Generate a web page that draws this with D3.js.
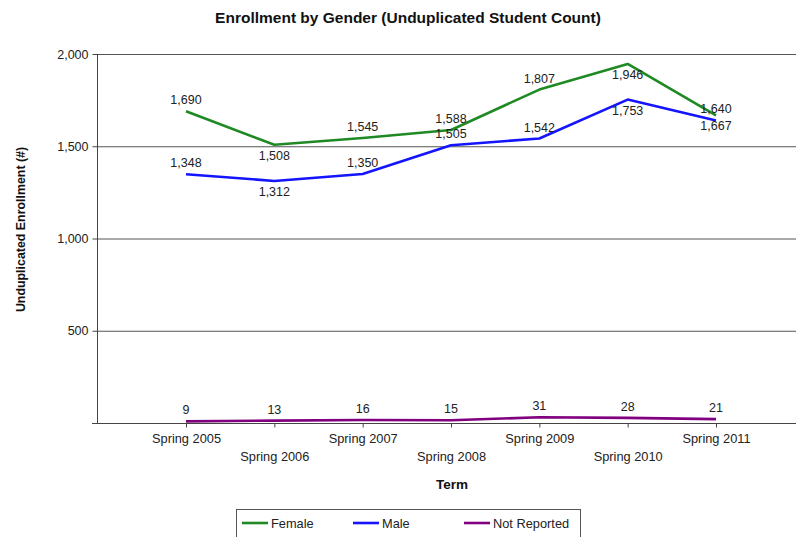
<!DOCTYPE html>
<html><head><meta charset="utf-8">
<script src="https://cdn.jsdelivr.net/npm/d3@7"></script>
<style>body{margin:0;background:#fff;}svg{display:block;font-family:"Liberation Sans",Arial,sans-serif;}</style>
</head><body><svg id="c" width="796" height="537"></svg>
<script>
const terms = ["Spring 2005","Spring 2006","Spring 2007","Spring 2008","Spring 2009","Spring 2010","Spring 2011"];
const female = [1690,1508,1545,1588,1807,1946,1667];
const male = [1348,1312,1350,1505,1542,1753,1640];
const notReported = [9,13,16,15,31,28,21];
const femaleLabelPos = ["above","below","above","above","above","below","below"];
const maleLabelPos = ["above","below","above","above","above","below","above"];
const notReportedLabelPos = ["above","above","above","above","above","above","above"];
const yTicks = [500,1000,1500,2000];

const series = [
  {name:"Female", values:female, pos:femaleLabelPos, color:"#1f8a24"},
  {name:"Male", values:male, pos:maleLabelPos, color:"#1414ff"},
  {name:"Not Reported", values:notReported, pos:notReportedLabelPos, color:"#800080"}
];

const svg = d3.select("#c");
const pL = 97, pR = 796, pT = 54, pB = 423;
const x = d3.scalePoint().domain(terms).range([186, 716]);
const y = d3.scaleLinear().domain([0, 2000]).range([pB, pT]);
const fmt = d3.format(",");
const FF = "'Liberation Sans',Arial,sans-serif";

// gridlines
svg.append("g").selectAll("line").data(yTicks).join("line")
  .attr("x1", pL).attr("x2", pR)
  .attr("y1", d => y(d) + 0.5).attr("y2", d => y(d) + 0.5)
  .attr("stroke", "#555").attr("stroke-width", 1.2);

// y axis
const yAxis = svg.append("g").attr("transform", `translate(${pL + 0.5},0)`)
  .call(d3.axisLeft(y).tickValues(yTicks).tickFormat(fmt).tickSize(5).tickSizeOuter(0));
yAxis.select(".domain").attr("stroke", "#444").attr("d", `M0,${pT}V${pB}`);
yAxis.selectAll(".tick line").attr("stroke", "#444");
yAxis.selectAll(".tick text").attr("font-size", 12.5).attr("fill", "#222").attr("x", -9)
  .attr("font-family", FF);

// x axis
const xAxis = svg.append("g").attr("transform", `translate(0,${pB + 0.5})`)
  .call(d3.axisBottom(x).tickSize(4).tickSizeOuter(0));
xAxis.select(".domain").attr("stroke", "#444").attr("d", `M${pL - 5},0H${pR}`);
xAxis.selectAll(".tick line").attr("stroke", "#444");
xAxis.selectAll(".tick text").attr("font-size", 12.8).attr("fill", "#222")
  .attr("font-family", FF)
  .attr("dy", null)
  .attr("y", (d, i) => i % 2 === 0 ? 19 : 37);

// lines
const line = d3.line().x((d, i) => x(terms[i])).y(d => y(d));
series.forEach(s => {
  svg.append("path").datum(s.values).attr("d", line)
    .attr("fill", "none").attr("stroke", s.color).attr("stroke-width", 2.6)
    .attr("stroke-linejoin", "round");
});

// labels
series.forEach(s => {
  svg.append("g").selectAll("text").data(s.values).join("text")
    .attr("x", (d, i) => x(terms[i]))
    .attr("y", (d, i) => y(d) + (s.pos[i] === "above" ? -7 : 15))
    .attr("text-anchor", "middle").attr("font-size", 12.5).attr("fill", "#222")
    .text(d => fmt(d));
});

// title
svg.append("text").attr("x", 408).attr("y", 23).attr("text-anchor", "middle")
  .attr("font-size", 15.5).attr("font-weight", "bold").attr("fill", "#111")
  .text("Enrollment by Gender (Unduplicated Student Count)");

// axis titles
svg.append("text").attr("transform", `translate(25,${(pT + pB) / 2 - 9}) rotate(-90)`)
  .attr("text-anchor", "middle").attr("font-size", 12.4).attr("font-weight", "bold").attr("fill", "#111")
  .text("Unduplicated Enrollment (#)");
svg.append("text").attr("x", 452).attr("y", 489).attr("text-anchor", "middle")
  .attr("font-size", 13.5).attr("font-weight", "bold").attr("fill", "#111").text("Term");

// legend
const lg = svg.append("g");
lg.append("rect").attr("x", 236.5).attr("y", 509.5).attr("width", 344).attr("height", 30)
  .attr("fill", "#fff").attr("stroke", "#555");
const lx = [242, 353, 464];
series.forEach((s, i) => {
  lg.append("line").attr("x1", lx[i]).attr("x2", lx[i] + 26).attr("y1", 523).attr("y2", 523)
    .attr("stroke", s.color).attr("stroke-width", 2.6);
  lg.append("text").attr("x", lx[i] + 29).attr("y", 527.5).attr("font-size", 12.8).attr("fill", "#222").text(s.name);
});
</script></body></html>
